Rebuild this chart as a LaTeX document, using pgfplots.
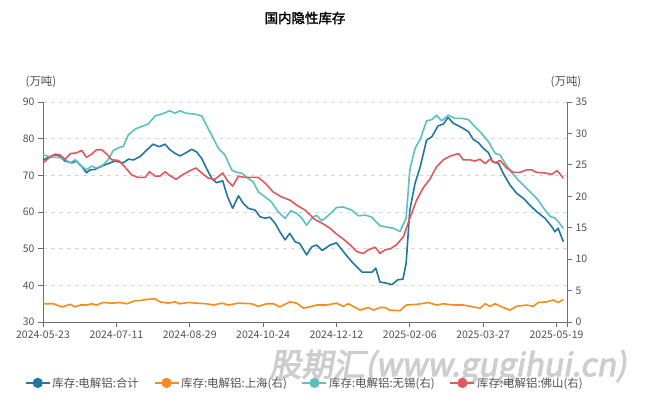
\documentclass[border=0pt]{standalone}
\usepackage{fontspec}
\setmainfont{Noto Sans CJK SC}
\newfontfamily\boldcjk[FakeBold=2]{Noto Sans CJK SC}
\newfontfamily\wmfont[FakeBold=3,FakeSlant=0.18]{Noto Sans CJK SC}
\usepackage{pgfplots}
\pgfplotsset{compat=1.18}
\definecolor{cblue}{RGB}{33,118,163}
\definecolor{corange}{RGB}{244,140,30}
\definecolor{cteal}{RGB}{92,192,190}
\definecolor{cred}{RGB}{224,88,94}
\definecolor{axgray}{RGB}{110,110,110}
\definecolor{txtgray}{RGB}{80,80,80}
\definecolor{gridgray}{RGB}{215,215,215}
\definecolor{wmgray}{RGB}{205,205,205}
\pgfplotsset{
  common/.style={
    at={(0,0)}, anchor=south west,
    width=524bp, height=220bp, scale only axis,
    xmin=0, xmax=100,
    axis line style={draw=axgray, line width=0.8bp, -},
    tick style={draw=axgray, line width=0.8bp},
    tick align=outside, major tick length=5bp,
    ticklabel style={font=\fontsize{10.5}{12}\selectfont, text=txtgray},
    /pgf/number format/assume math mode=true,
  },
  sline/.style={line width=1.6bp, line join=round},
}
\begin{document}
\begin{tikzpicture}
\path[use as bounding box] (-43bp,-77bp) rectangle (612bp,322bp);
\node[text=wmgray] at (405bp,-45bp) {\wmfont\fontsize{32}{34}\selectfont 股期汇(www.gugihui.cn)};
\begin{axis}[common,
  ymin=30, ymax=90, ytick={30,40,...,90},
  axis x line*=bottom, axis y line*=left,
  xtick={0,14,28,42,56,70,84,98,100},
  xticklabels={2024-05-23,2024-07-11,2024-08-29,2024-10-24,2024-12-12,2025-02-06,2025-03-27,2025-05-19,},
  ymajorgrids, grid style={draw=gridgray, dash pattern=on 4bp off 4bp, line width=0.8bp},
]
\addplot[sline, cblue] coordinates {
(0,74.2)(2,75.5)(2.9,75.5)(4.2,73.9)(5.5,73.4)(6.4,73.9)(7.4,72.4)(8.3,70.7)(9,71.5)(9.9,71.6)
(11.2,72.5)(12.8,73.4)(13.7,73.9)(15.3,73.4)(16.3,74.4)(17.3,74.2)(18.5,75.1)(19.8,76.9)(21,78.5)
(22.2,77.8)(23.3,78.5)(24.2,77.0)(25.2,76.0)(26.1,75.3)(27.1,76)(28.4,77.1)(29.3,76.4)(30.3,74.6)
(31.2,71.9)(32.2,69.2)(33.1,68)(34.3,68.5)(35.2,64.2)(36.2,61)(37.3,64.4)(38.2,62.4)(39.2,61)
(40.5,60.5)(41.4,58.7)(42.4,58.3)(43.3,58.6)(44.3,56.9)(45.2,54.6)(46.2,52.4)(47.1,54.2)(48.1,51.9)
(49,51.4)(50.3,48.3)(51.3,50.5)(52.2,51)(53.3,49.5)(54.8,51)(56,51.6)(57.6,48.7)(59.2,46)
(60.9,43.6)(62.8,43.6)(63.5,44.7)(64.3,40.9)(65.5,40.6)(66.6,40.2)(67.7,41.5)(68.7,41.7)
(69.3,46)(70,60.5)(71,67.8)(72,72.4)(73.2,79.6)(74.2,80.5)(74.8,82)(75.4,83.5)(76.4,84)(77.3,85.8)
(78.3,84.2)(79.6,83.3)(81.2,81.9)(82.1,79.8)(83.1,78.9)(84,77.4)(85,76.2)(85.8,73.7)(86.9,73.3)
(87.8,70.6)(89.1,67.4)(90.4,65.1)(91.7,63.7)(92.9,61.9)(94.2,60.1)(95.8,58.3)(97.1,56)(97.7,54.6)
(98.3,55.6)(99.3,51.9)
};
\end{axis}
\begin{axis}[common,
  ymin=0, ymax=35, ytick={0,5,...,35},
  axis y line*=right, axis x line=none,
  legend style={at={(0.5,-0.277)}, anchor=center, legend columns=4, draw=none, fill=none,
    font=\fontsize{11.5}{13}\selectfont, text=txtgray,
    /tikz/every even column/.append style={column sep=13bp}},
  legend image code/.code={\draw[mark repeat=2,mark phase=2] plot coordinates {(0bp,0bp)(12bp,0bp)(24bp,0bp)};},
]
\addlegendimage{cblue, line width=1.2bp, mark=*, mark size=4.5bp}
\addlegendentry{库存:电解铝:合计}
\addlegendimage{corange, line width=1.2bp, mark=*, mark size=4.5bp}
\addlegendentry{库存:电解铝:上海(右)}
\addlegendimage{cteal, line width=1.2bp, mark=*, mark size=4.5bp}
\addlegendentry{库存:电解铝:无锡(右)}
\addlegendimage{cred, line width=1.2bp, mark=*, mark size=4.5bp}
\addlegendentry{库存:电解铝:佛山(右)}
\addplot[sline, corange, forget plot] coordinates {
(0,2.9)(2,2.9)(3.6,2.4)(5.2,2.8)(6.1,2.4)(7.1,2.7)(8.3,2.7)(9.3,2.9)(10.2,2.7)(11.5,3.1)(13.1,3.0)
(14.7,3.1)(16,2.9)(17.6,3.4)(18.5,3.4)(19.8,3.6)(21.4,3.7)(22.3,3.2)(23.9,3.0)(25.2,3.2)(26.1,2.9)
(27.7,3.1)(29.3,3.0)(31.2,2.9)(32.5,2.7)(34.1,3.0)(35.4,2.7)(37.3,3.0)(39.8,2.9)(41.1,2.5)(42.7,2.9)
(44,2.9)(45.2,2.4)(47.1,3.2)(48.4,3.0)(49.7,2.2)(50.3,2.3)(52.2,2.7)(54.1,2.7)(56,3.0)(57.3,2.5)
(58.3,2.9)(60.5,1.9)(62.1,2.3)(63.1,1.9)(64.3,2.3)(65.3,2.3)(66.2,1.9)(68.1,1.8)(69.3,2.7)(71.3,2.8)
(73.5,3.1)(75.1,2.7)(76.4,2.9)(78.3,2.7)(80.2,2.7)(82.1,2.4)(83.4,2.2)(84.4,2.9)(85.3,2.5)(86.3,2.9)
(87.8,2.3)(89.1,1.9)(90.4,2.5)(92.3,2.7)(93.6,2.5)(94.5,3.1)(96.1,3.2)(97.4,3.5)(98.3,3.1)(99.3,3.6)
};
\addplot[sline, cteal, forget plot] coordinates {
(0,26.6)(1.7,26.2)(2.9,26.2)(4.2,25.9)(5.2,25.3)(6.1,25.8)(7.1,25)(8.3,24.2)(9.3,24.8)(10.2,24.5)
(11.5,25)(12.5,25.9)(13.4,27.3)(14.7,27.8)(15.3,27.9)(16.3,29.8)(17.6,30.7)(18.8,31.1)(20.1,31.5)
(21.4,32.8)(22.7,33.1)(24.2,33.6)(25.2,33.2)(26.1,33.6)(27.4,33.2)(28.7,33.1)(30.3,32.8)(31.2,31.3)
(32.2,29.7)(33.5,27.6)(34.7,26.6)(36,24.2)(37,23.8)(37.9,23.7)(38.9,23)(40.1,22.3)(41.1,20.7)
(42.4,19.9)(43.6,19.1)(44.9,17.5)(46.2,16.5)(47.3,17.7)(48.4,17.3)(49.4,16.5)(50.3,15.4)(51.3,16.5)
(52.2,17)(53.2,16.1)(54.4,16.9)(56,18.2)(57.3,18.3)(58.9,17.8)(60.2,16.9)(61.5,17)(62.7,16.7)
(64.3,15.3)(65.6,15.1)(66.9,14.9)(68.1,14.4)(69.3,16.5)(70,24.2)(71,27.6)(72,29.1)(73.2,32)
(74.2,32.2)(75.1,32.9)(76.1,32)(77.3,32.9)(78.6,32.4)(79.9,32.4)(81.2,32.2)(82.4,31.1)(83.7,30)
(85,28.7)(86.3,26.8)(87.2,26.6)(88.2,25.2)(89.4,23.8)(90.7,22.6)(92,21.5)(93.2,20.5)(94.5,19.4)
(95.8,17.8)(96.8,16.8)(97.7,16.5)(98.3,16)(99.3,14.9)
};
\addplot[sline, cred, forget plot] coordinates {
(0,25.3)(1.3,26.2)(2.3,26.7)(3.2,26.6)(4.2,25.9)(5.3,26.8)(6.4,26.9)(7.4,27.3)(8.3,26.2)(9.3,26.7)
(10.2,27.4)(11.2,27.4)(12.2,26.7)(13.1,25.8)(14.4,25.7)(15.6,24.7)(16.9,23.4)(18.2,23)(19.5,23)
(20.3,23.9)(21.4,23.2)(22.3,23.2)(23.3,23.9)(24.2,23.3)(25.4,22.7)(26.8,23.5)(28.1,24.1)(29.2,24.5)
(30.3,23.7)(31.5,22.9)(32.8,22.7)(34.3,23.7)(35.2,22.5)(36.2,21.6)(37.3,23.2)(38.5,23)(41.1,23)
(42.4,22.1)(43.9,20.7)(45.5,19.9)(47.1,19.4)(48.4,18.6)(50,17.8)(51.9,16.3)(53.5,15.6)(54.8,14.9)
(56,14)(57.3,13.2)(58.6,12.3)(59.9,11.2)(61.1,10.9)(62.1,11.5)(63.4,11.9)(64.3,10.9)(65.3,11.5)
(66.2,11.6)(67.5,12.3)(68.8,13.6)(70,16.5)(71.3,19.4)(72.6,21.4)(73.9,22.8)(75.1,24.7)(76.4,25.8)
(77.7,26.4)(79.3,26.8)(80.2,25.8)(81.5,25.8)(82.4,25.6)(83.4,25.9)(84.4,25.2)(85.3,25.9)(86.3,25.3)
(87.2,25.7)(88.5,24.5)(89.8,23.8)(91,23.8)(92.3,24.2)(93.3,24.2)(94.2,23.8)(95.8,23.7)(97.1,23.5)
(98.1,24.1)(99.3,22.9)
};
\end{axis}
\node[text=black] at (262bp,304bp) {\boldcjk\fontsize{13.5}{16}\selectfont 国内隐性库存};
\node[text=txtgray] at (-2bp,240bp) {\fontsize{11.5}{13}\selectfont (万吨)};
\node[text=txtgray] at (523bp,240bp) {\fontsize{11.5}{13}\selectfont (万吨)};
\end{tikzpicture}
\end{document}
